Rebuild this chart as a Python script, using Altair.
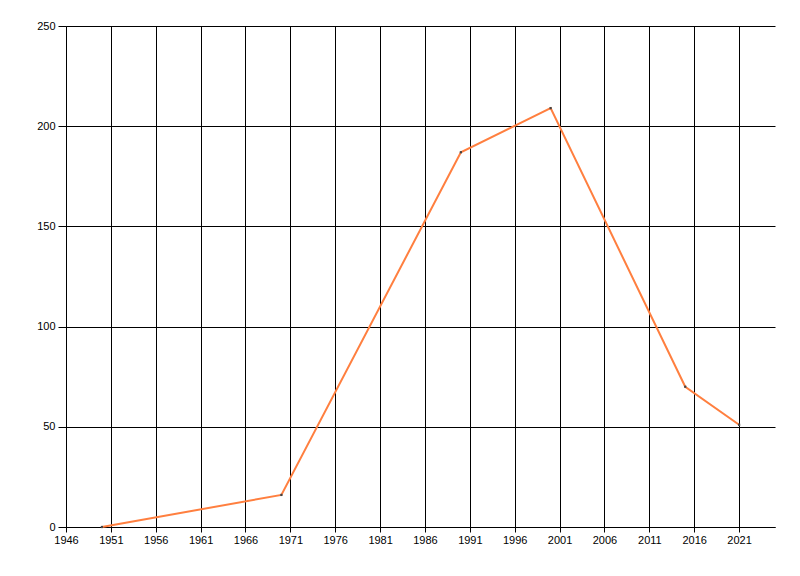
import altair as alt
import pandas as pd

# Values
years = [1950, 1970, 1990, 2000, 2015, 2021]
values = [0, 16, 187, 209, 70, 51]
x_ticks = list(range(1946, 2022, 5))
y_ticks = [0, 50, 100, 150, 200, 250]

df = pd.DataFrame({"year": years, "value": values})

x_enc = alt.X(
    "year:Q",
    title=None,
    scale=alt.Scale(domain=[1946, 2025], nice=False, zero=False),
    axis=alt.Axis(values=x_ticks, format="d", tickSize=5, labelPadding=2,
                  grid=True, gridColor="black", gridOpacity=1, gridWidth=1,
                  domainColor="black", tickColor="black", labelColor="black",
                  labelFlush=False, labelOverlap=False),
)
y_enc = alt.Y(
    "value:Q",
    title=None,
    scale=alt.Scale(domain=[0, 250], nice=False),
    axis=alt.Axis(values=y_ticks, tickSize=8, labelPadding=3,
                  grid=True, gridColor="black", gridOpacity=1, gridWidth=1,
                  domainColor="black", tickColor="black", labelColor="black",
                  labelFlush=False),
)

base = alt.Chart(df).encode(x=x_enc, y=y_enc)

line = base.mark_line(color="#FF7F3F", strokeWidth=2)
points = base.mark_point(shape="square", filled=True, size=5, color="#444444", opacity=1)

chart = (line + points).properties(
    width=709,
    height=501,
    autosize=alt.AutoSizeParams(type="none"),
    padding={"left": 58, "top": 18, "right": 9, "bottom": 33},
).configure_axis(
    labelFont="Liberation Sans",
    labelFontSize=11,
).configure_view(
    stroke=None,
)

chart.save("out.html", embed_options={"renderer": "svg", "actions": False})
